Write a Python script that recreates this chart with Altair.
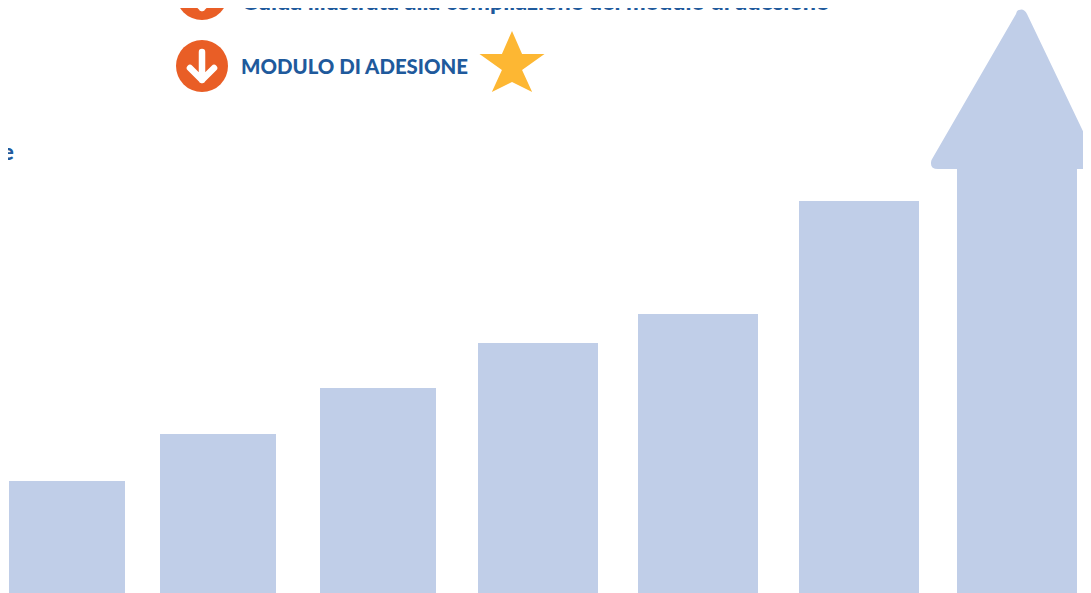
import altair as alt
import pandas as pd

categories = ["A", "B", "C", "D", "E", "F", "G"]
bar_start = [9, 160, 320, 478, 638, 799, 957]
bar_end = [125, 276, 436, 598, 758, 919, 1077]
bar_value = [112, 159, 205, 250, 279, 392, 425]

link_labels = ["Guida illustrata alla compilazione del modulo di adesione", "MODULO DI ADESIONE", "e"]
label_x = [241, 241, 2]
label_y = [583, 519, 433]
label_size = [23.3, 20.4, 22]

icon_x = [202, 202]
icon_y = [599, 527]

BAR = "#C0CEE8"
ORANGE = "#E95E26"
BLUE = "#1F5A9C"
STAR = "#FDB733"

x_scale = alt.Scale(domain=[8, 1083], range=[0, 1075], clamp=False, nice=False, zero=False)
y_scale = alt.Scale(domain=[0, 585], range=[585, 0], clamp=False, nice=False, zero=False)
X = lambda f: alt.X(f, type="quantitative", scale=x_scale, axis=None)
Y = lambda f: alt.Y(f, type="quantitative", scale=y_scale, axis=None)

bars_df = pd.DataFrame({"cat": categories, "start": bar_start, "end": bar_end, "value": bar_value, "zero": [0] * 7})
bars = alt.Chart(bars_df).mark_rect(color=BAR, opacity=1).encode(
    x=X("start"), x2="end", y=Y("value"), y2="zero"
)

HEAD = ("M-0.02,-0.79 Q0.03,-0.81 0.06,-0.75 L0.80,0.80 L-0.83,0.80 "
        "Q-0.92,0.80 -0.895,0.71 L-0.05,-0.75 Q-0.04,-0.79 -0.02,-0.79 Z")
head = alt.Chart(pd.DataFrame({"x": [1021], "y": [504]})).mark_point(
    shape=HEAD, size=40000, filled=True, fill=BAR, stroke=None, opacity=1
).encode(x=X("x"), y=Y("y"))

icons_df = pd.DataFrame({"x": icon_x, "y": icon_y})
circles = alt.Chart(icons_df).mark_point(
    shape="circle", size=2704, filled=True, fill=ORANGE, stroke=None, opacity=1
).encode(x=X("x"), y=Y("y"))
ARROW = "M0,-1 L0,1 M-0.86,0.14 L0,1 L0.86,0.14"
arrows = alt.Chart(icons_df).mark_point(
    shape=ARROW, size=784, filled=False, stroke="#FFFFFF", strokeWidth=6.5,
    strokeCap="round", strokeJoin="round", opacity=1
).encode(x=X("x"), y=Y("y"))

STAR_PATH = ("M0,-0.94 L0.31,-0.23 L1,-0.23 L0.31,0.26 L0.62,0.94 L0,0.63 "
             "L-0.62,0.94 L-0.31,0.26 L-1,-0.23 L-0.31,-0.23 Z")
star = alt.Chart(pd.DataFrame({"x": [512], "y": [531.5]})).mark_point(
    shape=STAR_PATH, size=4225, filled=True, fill=STAR, stroke=None, opacity=1
).encode(x=X("x"), y=Y("y"))

labels = alt.Chart(pd.DataFrame({"t": link_labels, "x": label_x, "y": label_y, "s": label_size})).mark_text(
    align="left", baseline="alphabetic", font="Lato", fontWeight=900, color=BLUE
).encode(x=X("x"), y=Y("y"), text="t:N", size=alt.Size("s:Q", scale=None, legend=None))

chart = alt.layer(bars, head, circles, arrows, star, labels).properties(
    width=1075, height=585, padding=0, autosize=alt.AutoSizeParams(type="none"),
).configure_view(stroke=None)

chart.save("out.html", embed_options={"renderer": "svg", "actions": False})
